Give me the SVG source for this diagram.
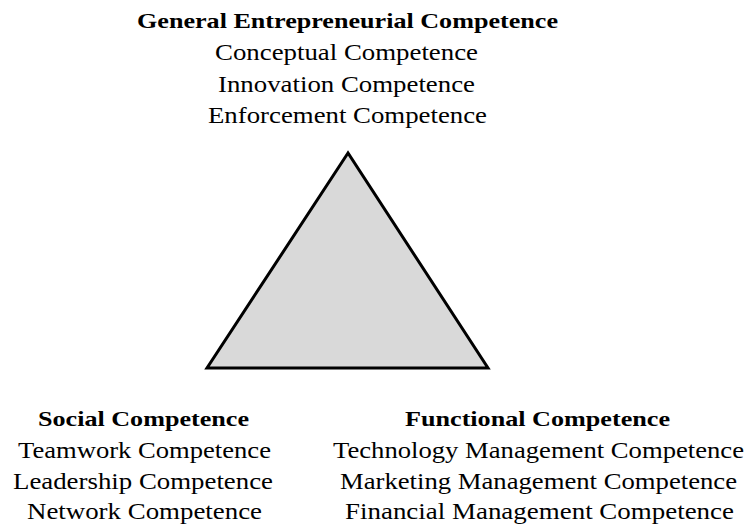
<svg xmlns="http://www.w3.org/2000/svg" width="746" height="529" viewBox="0 0 746 529">
<style>
text{font-family:"Liberation Serif","Times New Roman",serif;font-size:23px;fill:#000;text-anchor:middle}
.b{font-weight:bold;font-size:22px}
</style>
<rect width="746" height="529" fill="#fff"/>
<g id="triangle">
<polygon points="348,153 207,368 488,368" fill="#d9d9d9" stroke="#000" stroke-width="3" stroke-linejoin="miter"/>
</g>
<g id="general">
<text class="b" x="347.5" y="28" textLength="421" lengthAdjust="spacingAndGlyphs">General Entrepreneurial Competence</text>
<text x="346.5" y="60" textLength="263" lengthAdjust="spacingAndGlyphs">Conceptual Competence</text>
<text x="346.5" y="92" textLength="257" lengthAdjust="spacingAndGlyphs">Innovation Competence</text>
<text x="347.5" y="123" textLength="279" lengthAdjust="spacingAndGlyphs">Enforcement Competence</text>
</g>
<g id="social">
<text class="b" x="143.5" y="426" textLength="211" lengthAdjust="spacingAndGlyphs">Social Competence</text>
<text x="144.5" y="458" textLength="253" lengthAdjust="spacingAndGlyphs">Teamwork Competence</text>
<text x="143" y="489" textLength="260" lengthAdjust="spacingAndGlyphs">Leadership Competence</text>
<text x="144.5" y="519" textLength="235" lengthAdjust="spacingAndGlyphs">Network Competence</text>
</g>
<g id="functional">
<text class="b" x="537.5" y="426" textLength="265" lengthAdjust="spacingAndGlyphs">Functional Competence</text>
<text x="538.5" y="458" textLength="411" lengthAdjust="spacingAndGlyphs">Technology Management Competence</text>
<text x="538.5" y="489" textLength="397" lengthAdjust="spacingAndGlyphs">Marketing Management Competence</text>
<text x="539.5" y="519" textLength="389" lengthAdjust="spacingAndGlyphs">Financial Management Competence</text>
</g>
<g id="connectors"></g>
</svg>
